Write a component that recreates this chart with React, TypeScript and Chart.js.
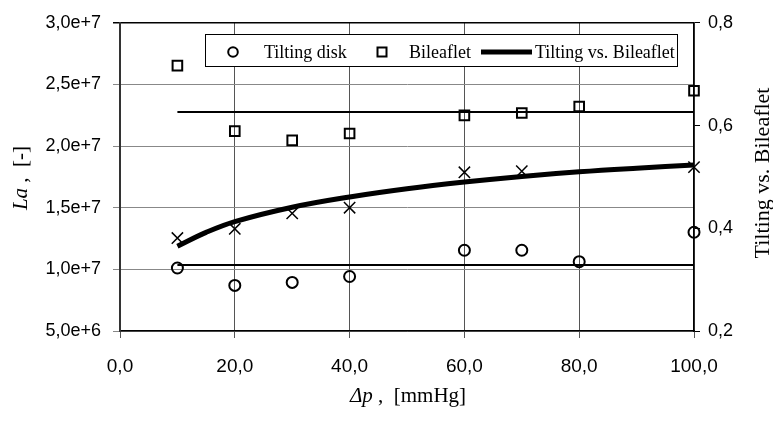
import React, { useEffect, useRef } from "react";
import { Chart, registerables } from "chart.js";

Chart.register(...registerables);

const xValues = [10, 20, 30, 40, 60, 70, 80, 100];
const tiltingDisk = [1.011e7, 8.7e6, 8.94e6, 9.42e6, 1.155e7, 1.155e7, 1.062e7, 1.301e7];
const bileaflet = [2.653e7, 2.121e7, 2.046e7, 2.102e7, 2.249e7, 2.268e7, 2.321e7, 2.449e7];
const ratioPoints = [0.381, 0.399, 0.429, 0.44, 0.509, 0.511, null, 0.519];
const trendX = [10, 15, 20, 30, 40, 50, 60, 70, 80, 90, 100];
const trendY = [0.365, 0.392, 0.413, 0.441, 0.461, 0.477, 0.49, 0.501, 0.51, 0.517, 0.523];
const meanX = [10, 100];
const bileafletMean = 2.276e7;
const tiltingMean = 1.035e7;
const xTicks = [0, 20, 40, 60, 80, 100];
const legendLabels = ["Tilting disk", "Bileaflet", "Tilting vs. Bileaflet"];

const fmtDec = (v: number) => v.toFixed(1).replace(".", ",");
const fmtExp = (v: number) => {
  const e = Math.floor(Math.log10(v) + 1e-9);
  const m = v / Math.pow(10, e);
  return m.toFixed(1).replace(".", ",") + "e+" + e;
};

const SERIF = "'Liberation Serif', 'Times New Roman', serif";
const SANS = "'Liberation Sans', Arial, sans-serif";

const overlayPlugin = {
  id: "overlay",
  afterDraw(chart: any) {
    const ctx = chart.ctx as CanvasRenderingContext2D;
    ctx.save();
    ctx.fillStyle = "#000";
    ctx.strokeStyle = "#000";
    // Legend box
    const bx = 205, by = 34, bw = 472, bh = 32;
    ctx.fillStyle = "#fff";
    ctx.fillRect(bx, by, bw, bh);
    ctx.lineWidth = 1;
    ctx.strokeStyle = "#000";
    ctx.strokeRect(bx + 0.5, by + 0.5, bw, bh);
    ctx.fillStyle = "#000";
    ctx.font = `18px ${SERIF}`;
    ctx.textBaseline = "alphabetic";
    ctx.textAlign = "left";
    // circle
    ctx.lineWidth = 2;
    ctx.beginPath();
    ctx.arc(233, 52, 4.8, 0, Math.PI * 2);
    ctx.stroke();
    ctx.fillText(legendLabels[0], 264, 58);
    // square
    ctx.strokeRect(377.5, 47.5, 9, 9);
    ctx.fillText(legendLabels[1], 409, 58);
    // thick line
    ctx.lineWidth = 5;
    ctx.beginPath();
    ctx.moveTo(481, 52);
    ctx.lineTo(532, 52);
    ctx.stroke();
    ctx.fillText(legendLabels[2], 535, 58);

    // left axis title
    ctx.save();
    ctx.translate(27, 178);
    ctx.rotate(-Math.PI / 2);
    const l1 = "La";
    const l2 = " ,  [-]";
    ctx.font = `italic 21px ${SERIF}`;
    const w1 = ctx.measureText(l1).width;
    ctx.font = `21px ${SERIF}`;
    const w2 = ctx.measureText(l2).width;
    const sx = -(w1 + w2) / 2;
    ctx.font = `italic 21px ${SERIF}`;
    ctx.fillText(l1, sx, 0);
    ctx.font = `21px ${SERIF}`;
    ctx.fillText(l2, sx + w1, 0);
    ctx.restore();

    // bottom axis title
    {
      const b1 = "Δp";
      const b2 = " ,  [mmHg]";
      ctx.font = `italic 21px ${SERIF}`;
      const bw1 = ctx.measureText(b1).width;
      ctx.font = `21px ${SERIF}`;
      const bw2 = ctx.measureText(b2).width;
      const x0 = 408 - (bw1 + bw2) / 2;
      ctx.font = `italic 21px ${SERIF}`;
      ctx.fillText(b1, x0, 402);
      ctx.font = `21px ${SERIF}`;
      ctx.fillText(b2, x0 + bw1, 402);
    }

    // right axis title
    ctx.save();
    ctx.translate(769, 173);
    ctx.rotate(-Math.PI / 2);
    ctx.font = `22px ${SERIF}`;
    ctx.textAlign = "center";
    ctx.fillText("Tilting vs. Bileaflet", 0, 0);
    ctx.restore();

    ctx.restore();
  },
};

export default function App() {
  const ref = useRef<HTMLCanvasElement>(null);
  useEffect(() => {
    if (!ref.current) return;
    const chart = new Chart(ref.current, {
      type: "line",
      data: {
        datasets: [
          {
            label: legendLabels[2],
            data: trendX.map((x, i) => ({ x, y: trendY[i] })),
            yAxisID: "y1",
            borderColor: "#000",
            borderWidth: 5,
            pointRadius: 0,
            tension: 0.4,
            fill: false,
          },
          {
            label: "ratio",
            data: xValues.map((x, i) => ({ x, y: ratioPoints[i] })),
            yAxisID: "y1",
            showLine: false,
            pointStyle: "crossRot",
            pointRadius: 8,
            pointBorderWidth: 1.5,
            pointBorderColor: "#000",
            borderColor: "#000",
          },
          {
            label: legendLabels[0],
            data: xValues.map((x, i) => ({ x, y: tiltingDisk[i] })),
            yAxisID: "y",
            showLine: false,
            pointStyle: "circle",
            pointRadius: 5.5,
            pointBorderWidth: 2,
            pointBorderColor: "#000",
            pointBackgroundColor: "rgba(0,0,0,0)",
          },
          {
            label: legendLabels[1],
            data: xValues.map((x, i) => ({ x, y: bileaflet[i] })),
            yAxisID: "y",
            showLine: false,
            pointStyle: "rect",
            pointRadius: 6.8,
            pointBorderWidth: 2,
            pointBorderColor: "#000",
            pointBackgroundColor: "rgba(0,0,0,0)",
          },
          {
            label: "mean1",
            data: meanX.map((x) => ({ x, y: bileafletMean })),
            yAxisID: "y",
            borderColor: "#000",
            borderWidth: 2,
            pointRadius: 0,
          },
          {
            label: "mean2",
            data: meanX.map((x) => ({ x, y: tiltingMean })),
            yAxisID: "y",
            borderColor: "#000",
            borderWidth: 2,
            pointRadius: 0,
          },
        ],
      },
      options: {
        responsive: false,
        animation: false,
        clip: false,
        layout: { padding: { top: 18, left: 0, right: 0, bottom: 0 } },
        plugins: { legend: { display: false }, tooltip: { enabled: false } },
        scales: {
          x: {
            type: "linear",
            min: 0,
            max: 100,
            afterFit: (s: any) => {
              s.height = 92;
            },
            afterBuildTicks: (s: any) => {
              s.ticks = xTicks.map((v) => ({ value: v }));
            },
            ticks: {
              callback: (v: any) => fmtDec(Number(v)),
              color: "#000",
              font: { family: SANS, size: 19 },
              padding: 17,
              maxRotation: 0,
            },
            grid: { color: "#555", lineWidth: 1, tickLength: 7 },
            border: { color: "#000", width: 1.5 },
          },
          y: {
            position: "left",
            min: 5e6,
            max: 3e7,
            afterFit: (s: any) => {
              s.width = 120;
            },
            ticks: {
              stepSize: 5e6,
              callback: (v: any) => fmtExp(Number(v)),
              color: "#000",
              font: { family: SANS, size: 18 },
              padding: 12,
            },
            grid: {
              color: (c: any) => (c.tick && c.tick.value >= 3e7 - 1 ? "#000" : "#888"),
              lineWidth: (c: any) => (c.tick && c.tick.value >= 3e7 - 1 ? 1.5 : 1),
              tickLength: 7,
            },
            border: { color: "#333", width: 2 },
          },
          y1: {
            position: "right",
            min: 0.2,
            max: 0.8,
            afterFit: (s: any) => {
              s.width = 79;
            },
            ticks: {
              stepSize: 0.2,
              callback: (v: any) => fmtDec(Number(v)),
              color: "#000",
              font: { family: SANS, size: 18 },
              padding: 8,
            },
            grid: { drawOnChartArea: false, color: "#000", tickLength: 6 },
            border: { color: "#000", width: 1.5 },
          },
        },
      },
      plugins: [overlayPlugin],
    } as any);
    return () => chart.destroy();
  }, []);
  return (
    <div style={{ position: "absolute", left: 0, top: 0, width: 773, height: 423, background: "#fff" }}>
      <canvas ref={ref} width={773} height={423} />
    </div>
  );
}
